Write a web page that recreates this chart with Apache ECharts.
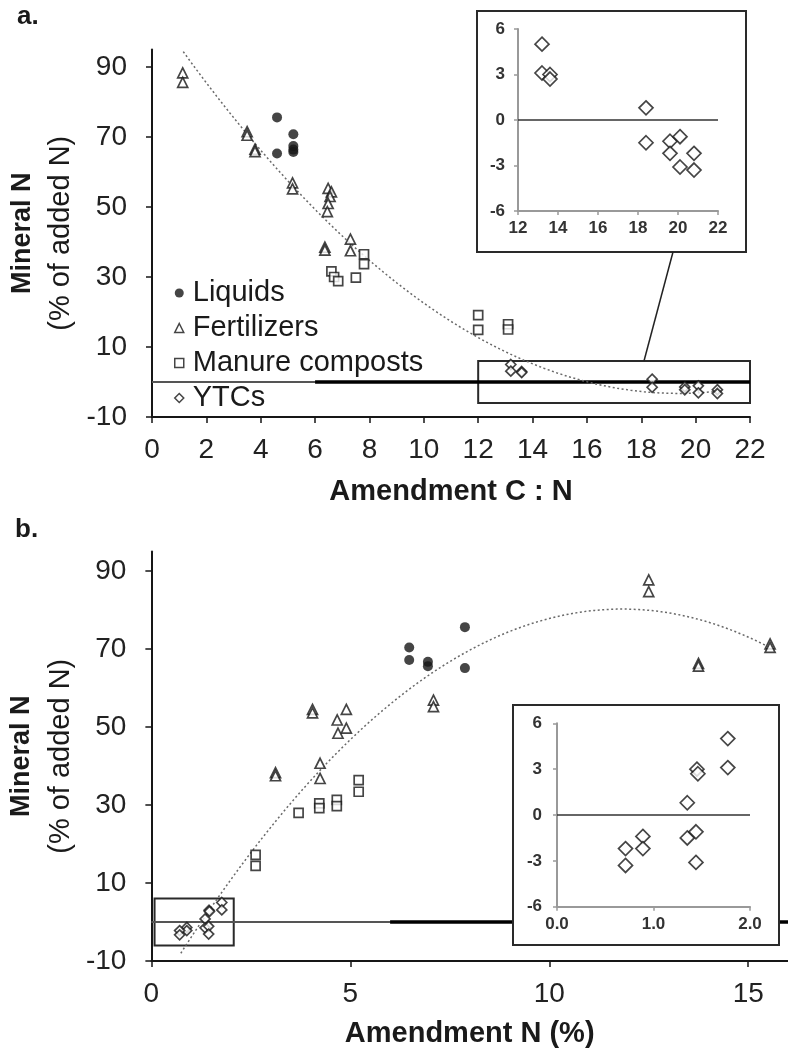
<!DOCTYPE html>
<html>
<head>
<meta charset="utf-8">
<script src="https://cdn.jsdelivr.net/npm/echarts@6/dist/echarts.min.js"></script>
<style>
  html, body { margin: 0; padding: 0; background: #fff; }
  #chart { width: 788px; height: 1055px; }
</style>
</head>
<body>
<div id="chart"></div>
<script>
// ---- Data: mineral N (% of added N) by amendment group ----
// Panel a: against amendment C:N
const liquidsCN  = [4.6, 4.6, 5.2, 5.2, 5.2, 5.2];
const liquidsMinA = [75.6, 65.3, 70.8, 67.4, 66.4, 65.7];
const fertCN  = [1.13, 1.13, 3.5, 3.5, 3.79, 3.79, 5.17, 5.17, 6.48, 6.6, 6.55, 6.48, 6.45, 6.36, 6.36, 7.3, 7.3];
const fertMinA = [88.3, 85.6, 71.5, 70.5, 66.5, 65.8, 56.9, 55.2, 55.3, 54.3, 53.0, 51.0, 48.7, 38.5, 37.7, 40.8, 37.5];
const manureCN  = [6.6, 6.7, 6.85, 7.5, 7.8, 7.8, 12.0, 12.0, 13.1, 13.1];
const manureMinA = [31.6, 30.0, 28.8, 29.8, 36.5, 33.7, 19.1, 14.9, 16.5, 15.0];

// Panel b: against amendment N (%)
const liquidsN  = [7.88, 6.48, 6.48, 6.95, 6.95, 7.88];
const liquidsMinB = [75.6, 70.4, 67.2, 66.7, 65.6, 65.1];
const fertN  = [12.5, 12.5, 15.55, 15.55, 13.75, 13.75, 7.09, 7.09, 4.05, 4.05, 4.9, 4.67, 4.9, 4.69, 4.24, 4.24, 3.12, 3.12];
const fertMinB = [87.7, 84.7, 71.3, 70.4, 66.3, 65.6, 56.9, 55.2, 54.5, 53.6, 54.5, 51.8, 49.7, 48.4, 40.7, 36.8, 38.3, 37.5];
const manureN  = [2.62, 2.62, 3.7, 4.22, 4.22, 4.66, 4.66, 5.21, 5.21];
const manureMinB = [17.2, 14.4, 28.0, 30.4, 29.2, 31.3, 29.7, 36.4, 33.4];

// YTCs (same amendments in both panels and both insets)
const ytcCN  = [13.2, 13.2, 13.6, 13.6, 18.4, 18.4, 19.6, 20.1, 19.6, 20.8, 20.1, 20.8];
const ytcN   = [1.77, 1.77, 1.45, 1.46, 1.35, 1.35, 0.89, 1.44, 0.89, 0.71, 1.44, 0.71];
const ytcMin = [5.0, 3.1, 3.0, 2.7, 0.8, -1.5, -1.4, -1.1, -2.2, -2.2, -3.1, -3.3];

// Second-order polynomial trendlines: [c0, c1, c2] and fitted range
const trendA = [107.1, -11.40, 0.2944];
const trendARange = [1.15, 20.8];
const trendB = [-20.17, 16.97, -0.717];
const trendBRange = [0.74, 15.6];

// Axis tick values
const mineralTicks = [-10, 10, 30, 50, 70, 90];
const nTicks = [0, 5, 10, 15];

// Zero reference line (thin over full range, bold from 6 onwards) and zoom boxes
const zeroA = [0, 22];
const zeroB = [0, 16];
const boldFrom = 6;
const boxA = [[12, -6], [22, 6]];
const boxB = [[0.08, -6], [2.07, 6]];

const groups = ['Liquids', 'Fertilizers', 'Manure composts', 'YTCs'];

// ---- Helpers ----
const zip = (xs, ys) => xs.map((x, i) => [x, ys[i]]);
function poly(c, range, n) {
  const pts = [];
  for (let i = 0; i <= n; i++) {
    const x = range[0] + (range[1] - range[0]) * i / n;
    pts.push([x, c[0] + c[1] * x + c[2] * x * x]);
  }
  return pts;
}

const FONT = "'Liberation Sans', Arial, Helvetica, sans-serif";
const INK = '#161616';

const hollow = { color: '#fff', borderColor: INK, borderWidth: 1.7 };

function mainSeries(ax, liq, fert, man, ytc, trend, zero, box) {
  return [
    { name: 'Liquids', type: 'scatter', xAxisIndex: ax, yAxisIndex: ax, symbol: 'circle', symbolSize: 10,
      itemStyle: { color: INK }, data: liq, z: 4 },
    { name: 'Fertilizers', type: 'scatter', xAxisIndex: ax, yAxisIndex: ax, symbol: 'triangle', symbolSize: [10, 10],
      itemStyle: hollow, data: fert, z: 4 },
    { name: 'Manure composts', type: 'scatter', xAxisIndex: ax, yAxisIndex: ax, symbol: 'rect', symbolSize: 9,
      itemStyle: hollow, data: man, z: 4 },
    { name: 'YTCs', type: 'scatter', xAxisIndex: ax, yAxisIndex: ax, symbol: 'diamond', symbolSize: 10,
      itemStyle: hollow, data: ytc, z: 4 },
    { type: 'line', xAxisIndex: ax, yAxisIndex: ax, data: trend, showSymbol: false, symbol: 'none', silent: true,
      lineStyle: { color: '#6a6a6a', width: 1.5, type: [2, 2.5] }, z: 3 },
    { type: 'line', xAxisIndex: ax, yAxisIndex: ax, data: [[zero[0], 0], [zero[1], 0]], symbol: 'none', silent: true,
      lineStyle: { color: '#555', width: 2 }, z: 2,
      markArea: { silent: true, itemStyle: { color: 'rgba(0,0,0,0)', borderColor: '#2a2a2a', borderWidth: 2 },
        data: [[{ coord: box[0] }, { coord: box[1] }]] } },
    { type: 'line', xAxisIndex: ax, yAxisIndex: ax, data: [[boldFrom, 0], [zero[1], 0]], symbol: 'none', silent: true,
      lineStyle: { color: '#000', width: 3.5 }, z: 2 }
  ];
}

function insetSeries(ax, xs, x0, x1) {
  return [
    { type: 'line', xAxisIndex: ax, yAxisIndex: ax, data: [[x0, 0], [x1, 0]], symbol: 'none', silent: true,
      lineStyle: { color: '#333', width: 1.5 }, z: 11 },
    { name: 'YTCs', type: 'scatter', xAxisIndex: ax, yAxisIndex: ax, symbol: 'diamond', symbolSize: 14,
      itemStyle: hollow, data: zip(xs, ytcMin), z: 12 }
  ];
}

const mainAxisLine = { onZero: false, lineStyle: { color: INK, width: 2 } };
const mainTick = { length: 6, lineStyle: { color: INK, width: 1.5 } };
const mainLabel = { fontSize: 28, color: '#222', fontFamily: FONT };
const insetAxisLine = { onZero: false, lineStyle: { color: '#999', width: 2 } };
const insetTick = { length: 4, lineStyle: { color: '#999', width: 1.5 } };
const insetLabel = { fontSize: 17, fontWeight: 'bold', color: '#333', fontFamily: FONT };
const yName = '{b|Mineral N}\n{r|(% of added N)}';
const yNameStyle = {
  color: '#1a1a1a', fontFamily: FONT,
  rich: {
    b: { fontSize: 27, fontWeight: 'bold', lineHeight: 39, fontFamily: FONT, color: '#1a1a1a' },
    r: { fontSize: 29, lineHeight: 39, fontFamily: FONT, color: '#1a1a1a' }
  }
};
const xNameStyle = { fontSize: 29, fontWeight: 'bold', color: '#1a1a1a', fontFamily: FONT };

// Layout of the two inset frames
const frameA = { x: 477, y: 11, width: 269, height: 241 };
const frameB = { x: 513, y: 705, width: 266, height: 240 };

const chart = echarts.init(document.getElementById('chart'), null, { renderer: 'canvas' });

const option = {
  backgroundColor: '#fff',
  animation: false,
  textStyle: { fontFamily: FONT },
  title: [
    { text: 'a.', left: 17, top: 4, padding: 0, textStyle: { fontSize: 26, fontWeight: 'bold', color: '#1a1a1a', fontFamily: FONT } },
    { text: 'b.', left: 15, top: 517, padding: 0, textStyle: { fontSize: 26, fontWeight: 'bold', color: '#1a1a1a', fontFamily: FONT } }
  ],
  legend: {
    data: groups, orient: 'vertical', left: 174, top: 275.5, itemWidth: 9, itemHeight: 9, itemGap: 0,
    selectedMode: false, padding: 0,
    itemStyle: { borderWidth: 1.5 },
    textStyle: { fontSize: 29, lineHeight: 35, color: '#1a1a1a', fontFamily: FONT, padding: [0, 0, 0, 4] }
  },
  grid: [
    { left: 152, top: 49.5, width: 598, height: 367.5 },
    { left: 148.3, top: 551.5, width: 644.8, height: 409.5 },
    { left: 518, top: 29, width: 200, height: 182 },
    { left: 557, top: 723.3, width: 193, height: 183.4 }
  ],
  xAxis: [
    { gridIndex: 0, type: 'value', min: 0, max: 22, interval: 2, splitLine: { show: false },
      axisLine: mainAxisLine, axisTick: mainTick, axisLabel: { ...mainLabel, margin: 19 },
      name: 'Amendment C : N', nameLocation: 'middle', nameGap: 60, nameTextStyle: xNameStyle },
    { gridIndex: 1, type: 'value', min: 0, max: 16, splitLine: { show: false },
      axisLine: mainAxisLine, axisTick: { ...mainTick, customValues: nTicks },
      axisLabel: { ...mainLabel, margin: 19, customValues: nTicks },
      name: 'Amendment N (%)', nameLocation: 'middle', nameGap: 58, nameTextStyle: xNameStyle },
    { gridIndex: 2, type: 'value', min: 12, max: 22, interval: 2, splitLine: { show: false }, z: 10,
      axisLine: insetAxisLine, axisTick: insetTick, axisLabel: { ...insetLabel, margin: 9 } },
    { gridIndex: 3, type: 'value', min: 0, max: 2, interval: 1, splitLine: { show: false }, z: 10,
      axisLine: insetAxisLine, axisTick: insetTick,
      axisLabel: { ...insetLabel, margin: 9, formatter: v => v.toFixed(1) } }
  ],
  yAxis: [
    { gridIndex: 0, type: 'value', min: -10, max: 95, splitLine: { show: false },
      axisLine: mainAxisLine, axisTick: { ...mainTick, customValues: mineralTicks },
      axisLabel: { ...mainLabel, margin: 25, customValues: mineralTicks },
      name: yName, nameLocation: 'middle', nameRotate: 90, nameGap: 65, nameTextStyle: yNameStyle },
    { gridIndex: 1, type: 'value', min: -10, max: 95, splitLine: { show: false },
      axisLine: mainAxisLine, axisTick: { ...mainTick, customValues: mineralTicks },
      axisLabel: { ...mainLabel, margin: 25, customValues: mineralTicks },
      name: yName, nameLocation: 'middle', nameRotate: 90, nameGap: 61, nameTextStyle: yNameStyle },
    { gridIndex: 2, type: 'value', min: -6, max: 6, interval: 3, splitLine: { show: false }, z: 10,
      axisLine: insetAxisLine, axisTick: insetTick, axisLabel: { ...insetLabel, margin: 13 } },
    { gridIndex: 3, type: 'value', min: -6, max: 6, interval: 3, splitLine: { show: false }, z: 10,
      axisLine: insetAxisLine, axisTick: insetTick, axisLabel: { ...insetLabel, margin: 15 } }
  ],
  series: [
    ...mainSeries(0, zip(liquidsCN, liquidsMinA), zip(fertCN, fertMinA), zip(manureCN, manureMinA),
      zip(ytcCN, ytcMin), poly(trendA, trendARange, 80), zeroA, boxA),
    ...mainSeries(1, zip(liquidsN, liquidsMinB), zip(fertN, fertMinB), zip(manureN, manureMinB),
      zip(ytcN, ytcMin), poly(trendB, trendBRange, 80), zeroB, boxB),
    ...insetSeries(2, ytcCN, 12, 22),
    ...insetSeries(3, ytcN, 0, 2)
  ]
};

chart.setOption(option);

// Inset frames (white, so they mask the main plot behind them) and the leader line
const start = chart.convertToPixel({ xAxisIndex: 0, yAxisIndex: 0 }, [18.1, boxA[1][1]]);
const endX = chart.convertToPixel({ xAxisIndex: 2, yAxisIndex: 2 }, [19.75, -6])[0];
chart.setOption({
  graphic: [
    { id: 'frameA', type: 'rect', z: 5, shape: frameA, style: { fill: '#fff', stroke: '#2a2a2a', lineWidth: 2 }, silent: true },
    { id: 'frameB', type: 'rect', z: 5, shape: frameB, style: { fill: '#fff', stroke: '#2a2a2a', lineWidth: 2 }, silent: true },
    { id: 'leader', type: 'line', z: 5, silent: true,
      shape: { x1: start[0], y1: start[1], x2: endX, y2: frameA.y + frameA.height },
      style: { stroke: '#222', lineWidth: 1.5 } }
  ]
});
</script>
</body>
</html>
